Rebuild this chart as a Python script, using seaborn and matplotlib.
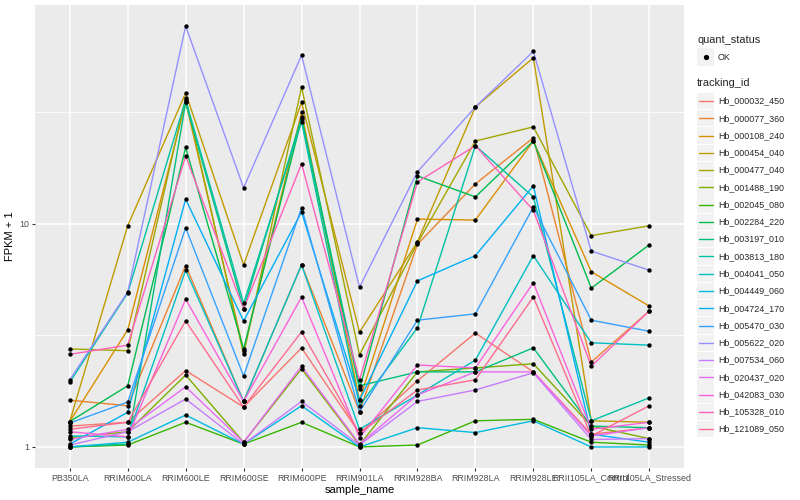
import numpy as np
import pandas as pd
import matplotlib
matplotlib.use("Agg")
import matplotlib.pyplot as plt
from matplotlib.patches import Rectangle
from matplotlib.lines import Line2D
import seaborn as sns

# samples on the x axis
samples = ['PB350LA', 'RRIM600LA', 'RRIM600LE', 'RRIM600SE', 'RRIM600PE', 'RRIM901LA',
           'RRIM928BA', 'RRIM928LA', 'RRIM928LE', 'RRII105LA_Control', 'RRII105LA_Stressed']

tracking_ids = ['Hb_000032_450', 'Hb_000077_360', 'Hb_000108_240', 'Hb_000454_040', 'Hb_000477_040',
                'Hb_001488_190', 'Hb_002045_080', 'Hb_002284_220', 'Hb_003197_010', 'Hb_003813_180',
                'Hb_004041_050', 'Hb_004449_060', 'Hb_004724_170', 'Hb_005470_030', 'Hb_005622_020',
                'Hb_007534_060', 'Hb_020437_020', 'Hb_042083_030', 'Hb_105328_010', 'Hb_121089_050']

# ggplot default hue palette for 20 levels
colors = ['#F8766D', '#EA8331', '#D89000', '#C09B00', '#A3A500', '#7CAE00', '#39B600', '#00BB4E',
          '#00BF7D', '#00C1A3', '#00BFC4', '#00BAE0', '#00B0F6', '#35A2FF', '#9590FF', '#C77CFF',
          '#E76BF3', '#FA62DB', '#FF62BC', '#FF6C91']

# FPKM + 1 per gene, one value per sample
hb_000032_450 = [1.24, 1.29, 2.2, 1.51, 2.78, 1.15, 1.98, 3.24, 2.17, 1.14, 1.22]
hb_000077_360 = [1.62, 1.53, 6.5, 1.6, 6.55, 1.44, 8.1, 15.1, 24.3, 2.4, 4.07]
hb_000108_240 = [1.3, 3.35, 35.2, 2.7, 31.6, 1.62, 10.5, 10.4, 23.5, 6.1, 4.28]
hb_000454_040 = [1.3, 9.8, 38.6, 6.55, 35.0, 3.27, 8.3, 33.4, 55.5, 1.31, 1.29]
hb_000477_040 = [2.75, 2.7, 36.7, 2.6, 41.0, 2.59, 8.2, 23.5, 27.2, 8.85, 9.8]
hb_001488_190 = [1.1, 1.17, 2.1, 1.05, 2.24, 1.02, 2.17, 2.26, 2.36, 1.24, 1.09]
hb_002045_080 = [1.0, 1.02, 1.29, 1.03, 1.29, 1.0, 1.02, 1.31, 1.33, 1.05, 1.02]
hb_002284_220 = [1.3, 1.88, 22.0, 2.75, 29.5, 1.82, 16.4, 13.2, 23.5, 5.15, 8.05]
hb_003197_010 = [1.0, 1.03, 35.0, 4.16, 30.0, 1.88, 2.17, 2.17, 2.78, 1.24, 1.22]
hb_003813_180 = [1.95, 4.9, 36.0, 4.4, 28.7, 1.53, 3.42, 22.4, 13.2, 1.31, 1.66]
hb_004041_050 = [1.12, 1.11, 6.2, 1.6, 6.55, 1.2, 1.71, 2.45, 7.2, 2.93, 2.86]
hb_004449_060 = [1.0, 1.05, 1.39, 1.03, 1.53, 1.0, 1.22, 1.16, 1.31, 1.0, 1.0]
hb_004724_170 = [1.03, 1.43, 12.9, 3.67, 11.3, 1.62, 5.55, 7.2, 14.8, 1.14, 1.05]
hb_005470_030 = [1.28, 1.59, 9.6, 2.08, 11.8, 1.44, 3.7, 3.95, 11.9, 3.7, 3.3]
hb_005622_020 = [2.0, 4.95, 77.0, 14.5, 57.0, 5.2, 17.1, 33.4, 59.3, 7.55, 6.2]
hb_007534_060 = [1.02, 1.17, 1.64, 1.03, 1.6, 1.02, 1.6, 1.8, 2.15, 1.08, 1.09]
hb_020437_020 = [1.08, 1.2, 1.86, 1.05, 2.3, 1.03, 1.71, 2.17, 2.17, 1.12, 1.22]
hb_042083_030 = [1.17, 1.11, 4.6, 1.6, 4.7, 1.1, 2.33, 2.26, 5.45, 1.2, 1.29]
hb_105328_010 = [2.6, 2.86, 20.1, 4.16, 18.6, 2.0, 15.4, 22.4, 11.5, 2.3, 4.07]
hb_121089_050 = [1.2, 1.29, 3.67, 1.51, 3.28, 1.15, 1.8, 2.0, 4.7, 1.12, 1.53]

values = [hb_000032_450, hb_000077_360, hb_000108_240, hb_000454_040, hb_000477_040,
          hb_001488_190, hb_002045_080, hb_002284_220, hb_003197_010, hb_003813_180,
          hb_004041_050, hb_004449_060, hb_004724_170, hb_005470_030, hb_005622_020,
          hb_007534_060, hb_020437_020, hb_042083_030, hb_105328_010, hb_121089_050]

rows = []
for tid, vals in zip(tracking_ids, values):
    for i, (s, v) in enumerate(zip(samples, vals)):
        rows.append({'tracking_id': tid, 'sample_name': s, 'x': i, 'fpkm': v, 'quant_status': 'OK'})
df = pd.DataFrame(rows)

sns.set_theme(style="darkgrid", rc={'axes.facecolor': '#EBEBEB', 'grid.color': 'white'})
plt.rcParams['font.family'] = ['Liberation Sans', 'DejaVu Sans']

W, H = 800, 500
fig = plt.figure(figsize=(8, 5), dpi=100)
fig.patch.set_facecolor('white')
ax = fig.add_axes([35 / W, 32 / H, 649 / W, 463 / H])

sns.lineplot(data=df, x='x', y='fpkm', hue='tracking_id', hue_order=tracking_ids, palette=colors,
             estimator=None, sort=False, linewidth=1.0, legend=False, ax=ax)
sns.scatterplot(data=df, x='x', y='fpkm', color='black', s=10, linewidth=0, legend=False, ax=ax, zorder=3)

ax.set_yscale('log')
lo, hi = np.log10(df['fpkm'].min()), np.log10(df['fpkm'].max())
pad = 0.05 * (hi - lo)
ax.set_ylim(10 ** (lo - pad), 10 ** (hi + pad))
ax.set_xlim(-0.6, len(samples) - 0.4)

ax.set_yticks([1, 10])
ax.set_yticklabels(['1', '10'])
ax.set_yticks([10 ** 0.5, 10 ** 1.5], minor=True)
ax.yaxis.set_minor_formatter(matplotlib.ticker.NullFormatter())
ax.set_xticks(range(len(samples)))
ax.set_xticklabels(samples)
ax.grid(True, which='major', color='white', linewidth=1.1)
ax.grid(True, which='minor', axis='y', color='white', linewidth=0.55)
ax.tick_params(axis='both', which='major', length=2.5, width=0.8, color='#333333',
               labelcolor='#4D4D4D', labelsize=6.4, pad=1.5)
ax.tick_params(axis='y', which='minor', length=0)
ax.tick_params(bottom=True, left=True)
for sp in ax.spines.values():
    sp.set_visible(False)

ax.set_xlabel('sample_name', fontsize=8, color='black', labelpad=2)
ax.set_ylabel('FPKM + 1', fontsize=8, color='black', labelpad=3)


# legends drawn in figure pixels, ggplot style
def fx(x):
    return x / W


def fy(y):
    return 1 - y / H


fig.text(fx(697), fy(40), 'quant_status', fontsize=7.9, va='center', ha='left')
fig.patches.append(Rectangle((fx(697), fy(65.5)), 17 / W, 17 / H, transform=fig.transFigure,
                             facecolor='#F2F2F2', edgecolor='none'))
fig.lines.append(Line2D([fx(705.5)], [fy(57)], marker='o', markersize=2.8, color='black',
                        transform=fig.transFigure))
fig.text(fx(718), fy(57), 'OK', fontsize=6.4, va='center', ha='left')

fig.text(fx(697), fy(83.5), 'tracking_id', fontsize=7.9, va='center', ha='left')
for i, (tid, c) in enumerate(zip(tracking_ids, colors)):
    yc = 101 + 17.27 * i
    fig.patches.append(Rectangle((fx(697), fy(yc + 8.2)), 17 / W, 16.4 / H, transform=fig.transFigure,
                                 facecolor='#F2F2F2', edgecolor='none'))
    fig.lines.append(Line2D([fx(698.5), fx(712.5)], [fy(yc), fy(yc)], color=c, linewidth=1.0,
                            transform=fig.transFigure))
    fig.text(fx(718), fy(yc), tid, fontsize=6.4, va='center', ha='left')

fig.savefig('out.png', dpi=100)
